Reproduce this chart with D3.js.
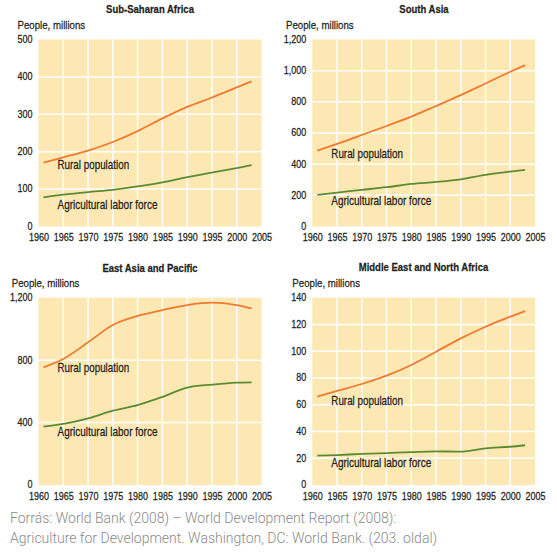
<!DOCTYPE html>
<html><head><meta charset="utf-8">
<script src="https://cdn.jsdelivr.net/npm/d3@7"></script>
<style>
html,body{margin:0;padding:0;background:#fff;}
svg{display:block;}
</style></head>
<body>
<svg id="chart" width="557" height="559"></svg>
<script>
// ---- data ----
const years = [1961, 1965, 1970, 1975, 1980, 1985, 1990, 1995, 2000, 2003];
const xTicks = [1960, 1965, 1970, 1975, 1980, 1985, 1990, 1995, 2000, 2005];

const regions = ["Sub-Saharan Africa", "South Asia", "East Asia and Pacific", "Middle East and North Africa"];
const seriesNames = ["Rural population", "Agricultural labor force"];

const ssaRural  = [171, 185, 203, 226, 255, 289, 320, 345, 372, 388];
const ssaLabor  = [78, 85, 92, 98, 107, 118, 132, 144, 156, 164];
const saRural   = [487, 530, 587, 645, 705, 773, 843, 918, 993, 1036];
const saLabor   = [203, 218, 235, 252, 273, 286, 303, 331, 352, 363];
const eapRural  = [754, 807, 914, 1025, 1083, 1121, 1153, 1168, 1153, 1132];
const eapLabor  = [374, 391, 427, 476, 512, 564, 624, 643, 656, 658];
const menaRural = [66, 70.3, 75.5, 81.7, 89.7, 99.6, 109.6, 118.3, 125.8, 130];
const menaLabor = [21.9, 22.4, 23.2, 23.9, 24.6, 25.2, 24.9, 27.4, 28.6, 29.7];

const ssaTicks  = [0, 100, 200, 300, 400, 500];
const saTicks   = [0, 200, 400, 600, 800, 1000, 1200];
const eapTicks  = [0, 400, 800, 1200];
const menaTicks = [0, 20, 40, 60, 80, 100, 120, 140];

const rural = [ssaRural, saRural, eapRural, menaRural];
const labor = [ssaLabor, saLabor, eapLabor, menaLabor];
const yTicks = [ssaTicks, saTicks, eapTicks, menaTicks];

// ---- layout ----
const panels = [
  {x0: 38.5, x1: 261.5, y0: 39.5, y1: 226.5, titleX: 150, titleY: 9.3, peopleX: 17.5, peopleY: 25, ruralDy: 125.5, laborDy: 165.5},
  {x0: 312.3, x1: 535, y0: 39.5, y1: 226.5, titleX: 424, titleY: 9.3, peopleX: 286, peopleY: 25, ruralDy: 113.8, laborDy: 161.5},
  {x0: 38.5, x1: 261.5, y0: 297.7, y1: 485, titleX: 150, titleY: 267.5, peopleX: 11.7, peopleY: 283, ruralDy: 70.3, laborDy: 134.3},
  {x0: 312.3, x1: 535, y0: 297.7, y1: 485, titleX: 423.5, titleY: 267.2, peopleX: 292.3, peopleY: 283, ruralDy: 103.3, laborDy: 165.3}
];

const bg = "#FDE8B4", orange = "#EE7A2F", green = "#5B8B30", ink = "#231f20";
const FONT = '"Liberation Sans", Arial, sans-serif';
const NARROW = 0.82;
const svg = d3.select("#chart");
const fmt = d3.format(",");

// condensed look: horizontal scale about each text's anchor point
function narrow(sel) {
  sel.each(function () {
    const t = d3.select(this);
    const x = +(t.attr("x") || 0), y = +(t.attr("y") || 0);
    t.attr("x", 0).attr("y", 0)
      .attr("transform", `translate(${x},${y}) scale(${NARROW},1)`)
      .style("font-family", FONT)
      .attr("stroke", ink).attr("stroke-width", 0.25);
  });
}

panels.forEach((p, i) => {
  const g = svg.append("g");
  const x = d3.scaleLinear().domain([1960, 2005]).range([p.x0, p.x1]);
  const ticks = yTicks[i];
  const y = d3.scaleLinear().domain([0, d3.max(ticks)]).range([p.y1, p.y0]);

  g.append("rect").attr("x", p.x0).attr("y", p.y0)
    .attr("width", p.x1 - p.x0).attr("height", p.y1 - p.y0).attr("fill", bg);

  // grid
  g.selectAll(".vg").data(xTicks.slice(1, -1)).join("line")
    .attr("x1", d => x(d)).attr("x2", d => x(d)).attr("y1", p.y0).attr("y2", p.y1)
    .attr("stroke", "#fff").attr("stroke-width", 1.5);
  g.selectAll(".hg").data(ticks.slice(1, -1)).join("line")
    .attr("x1", p.x0).attr("x2", p.x1).attr("y1", d => y(d)).attr("y2", d => y(d))
    .attr("stroke", "#fff").attr("stroke-width", 1.5);

  // axes (labels only)
  const xa = g.append("g").attr("transform", `translate(0,${p.y1})`)
    .call(d3.axisBottom(x).tickValues(xTicks).tickFormat(d3.format("d")).tickSize(0).tickPadding(7));
  const ya = g.append("g").attr("transform", `translate(${p.x0},0)`)
    .call(d3.axisLeft(y).tickValues(ticks).tickFormat(fmt).tickSize(0).tickPadding(6));
  ya.selectAll("text").attr("dy", "0.26em");
  [xa, ya].forEach(a => {
    a.select(".domain").remove();
    a.attr("font-family", FONT).attr("font-size", 11);
    a.selectAll("text").attr("fill", ink).call(narrow);
  });

  // lines
  const line = d3.line().x((d, k) => x(years[k])).y(d => y(d)).curve(d3.curveMonotoneX);
  g.append("path").attr("d", line(rural[i])).attr("fill", "none")
    .attr("stroke", orange).attr("stroke-width", 1.8);
  g.append("path").attr("d", line(labor[i])).attr("fill", "none")
    .attr("stroke", green).attr("stroke-width", 1.8);

  // texts
  g.append("text").attr("x", p.titleX).attr("y", p.titleY)
    .attr("dy", "0.35em").attr("text-anchor", "middle").attr("font-weight", "bold")
    .attr("font-size", 11.6).attr("fill", ink).text(regions[i]).call(narrow);
  g.append("text").attr("x", p.peopleX).attr("y", p.peopleY)
    .attr("dy", "0.35em").attr("font-size", 11.8).attr("fill", ink).text("People, millions").call(narrow);
  g.append("text").attr("x", p.x0 + 19).attr("y", p.y0 + p.ruralDy)
    .attr("dy", "0.35em").attr("font-size", 12).attr("fill", ink).text(seriesNames[0]).call(narrow);
  g.append("text").attr("x", p.x0 + 19).attr("y", p.y0 + p.laborDy)
    .attr("dy", "0.35em").attr("font-size", 12.2).attr("fill", ink).text(seriesNames[1]).call(narrow);
});

// source
const src = svg.append("text").attr("x", 10).attr("font-family", "Roboto, sans-serif")
  .attr("font-size", 14).attr("font-weight", 300).attr("fill", "#8a8a8a");
src.append("tspan").attr("x", 10).attr("y", 523).text("Forrás: World Bank (2008) – World Development Report (2008):");
src.append("tspan").attr("x", 10).attr("y", 543).text("Agriculture for Development. Washington, DC: World Bank. (203. oldal)");
</script>
</body></html>
